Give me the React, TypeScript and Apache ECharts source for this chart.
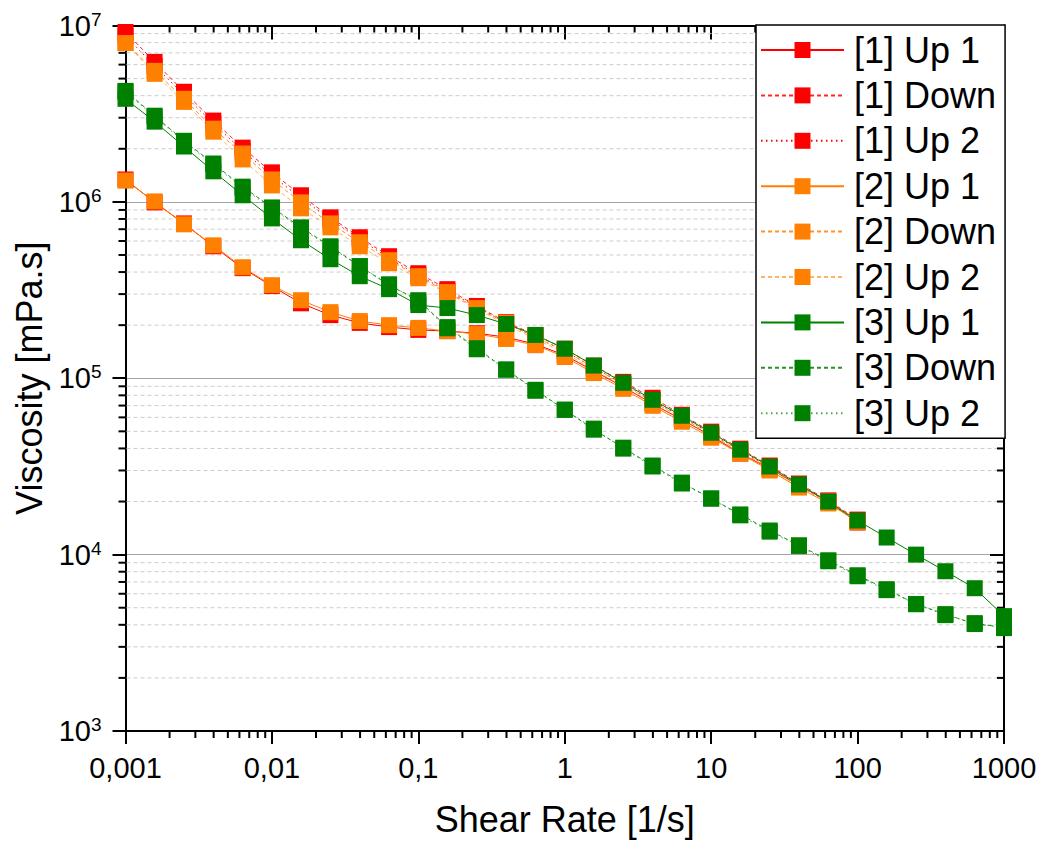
import React, { useEffect, useRef } from "react";
import * as echarts from "echarts";

const FONT = "'Liberation Sans', Arial, sans-serif";

// Shear rate [1/s] (5 points per decade)
const shearRate = [
  0.001, 0.00158, 0.00251, 0.00398, 0.00631, 0.01, 0.0158, 0.0251, 0.0398, 0.0631,
  0.1, 0.158, 0.251, 0.398, 0.631, 1, 1.58, 2.51, 3.98, 6.31,
  10, 15.8, 25.1, 39.8, 63.1, 100, 158, 251, 398, 631, 1000,
];

// Viscosity [mPa.s]
const s1Up1 = [1.34e6, 9.93e5, 7.55e5, 5.6e5, 4.21e5, 3.33e5, 2.66e5, 2.28e5, 2.06e5, 1.95e5, 1.88e5, 1.85e5, 1.8e5, 1.71e5, 1.56e5, 1.35e5, 1.1e5, 8.94e4, 7.16e4, 5.82e4, 4.72e4, 3.74e4, 3.08e4, 2.47e4, 2.0e4, 1.52e4];
const s1Down = [9.19e6, 6.22e6, 4.21e6, 2.89e6, 2.03e6, 1.47e6, 1.09e6, 8.17e5, 6.3e5, 4.92e5, 3.94e5, 3.2e5, 2.57e5, 2.08e5, 1.76e5, 1.47e5, 1.18e5, 9.54e4, 7.75e4, 6.21e4, 4.98e4, 3.99e4, 3.2e4, 2.53e4, 2.03e4, 1.58e4];
const s1Up2 = [8.72e6, 5.9e6, 4.05e6, 2.78e6, 1.95e6, 1.41e6, 1.05e6, 7.96e5, 6.14e5, 4.79e5, 3.84e5, 3.12e5, 2.54e5, 2.05e5, 1.71e5, 1.43e5, 1.15e5, 9.29e4, 7.45e4, 6.05e4, 4.85e4, 3.89e4, 3.12e4, 2.47e4, 1.98e4, 1.56e4];
const s2Up1 = [1.32e6, 1.006e6, 7.46e5, 5.67e5, 4.26e5, 3.37e5, 2.77e5, 2.37e5, 2.11e5, 2.0e5, 1.93e5, 1.85e5, 1.78e5, 1.67e5, 1.54e5, 1.32e5, 1.07e5, 8.71e4, 6.98e4, 5.67e4, 4.6e4, 3.74e4, 3.0e4, 2.4e4, 1.95e4, 1.54e4];
const s2Down = [7.96e6, 5.53e6, 3.84e6, 2.6e6, 1.88e6, 1.34e6, 9.93e5, 7.55e5, 5.9e5, 4.67e5, 3.79e5, 3.08e5, 2.5e5, 2.06e5, 1.71e5, 1.43e5, 1.15e5, 9.18e4, 7.36e4, 5.97e4, 4.79e4, 3.84e4, 3.08e4, 2.47e4, 2.0e4, 1.54e4];
const s2Up2 = [7.96e6, 5.32e6, 3.69e6, 2.5e6, 1.74e6, 1.24e6, 9.19e5, 7.17e5, 5.6e5, 4.49e5, 3.69e5, 3.04e5, 2.47e5, 2.01e5, 1.67e5, 1.39e5, 1.12e5, 8.94e4, 7.17e4, 5.82e4, 4.73e4, 3.79e4, 3.04e4, 2.44e4, 1.97e4, 1.54e4];
const s3Up1 = [3.84e6, 2.85e6, 2.06e6, 1.49e6, 1.09e6, 8.06e5, 6.06e5, 4.73e5, 3.79e5, 3.2e5, 2.6e5, 2.5e5, 2.28e5, 2.03e5, 1.76e5, 1.47e5, 1.18e5, 9.42e4, 7.55e4, 6.13e4, 4.91e4, 3.94e4, 3.16e4, 2.5e4, 2.0e4, 1.56e4, 1.25e4, 1.0e4, 8.05e3, 6.45e3, 4.48e3];
const s3Down = [4.26e6, 3.08e6, 2.22e6, 1.65e6, 1.22e6, 9.3e5, 7.17e5, 5.6e5, 4.32e5, 3.37e5, 2.77e5, 1.95e5, 1.48e5, 1.12e5, 8.6e4, 6.63e4, 5.11e4, 4.04e4, 3.2e4, 2.56e4, 2.08e4, 1.69e4, 1.37e4, 1.13e4, 9.29e3, 7.64e3, 6.37e3, 5.24e3, 4.6e3, 4.04e3, 3.89e3];
const s3Up2 = [4.21e6, 3.04e6, 2.19e6, 1.63e6, 1.2e6, 9.18e5, 7.08e5, 5.53e5, 4.32e5, 3.41e5, 2.73e5, 1.92e5, 1.46e5, 1.12e5, 8.49e4, 6.63e4, 5.18e4, 3.99e4, 3.16e4, 2.53e4, 2.08e4, 1.67e4, 1.35e4, 1.12e4, 9.17e3, 7.54e3, 6.29e3, 5.24e3, 4.54e3, 4.09e3, 3.83e3];

const seriesNames = ["[1] Up 1", "[1] Down", "[1] Up 2", "[2] Up 1", "[2] Down", "[2] Up 2", "[3] Up 1", "[3] Down", "[3] Up 2"];

const xTickLabels = ["0,001", "0,01", "0,1", "1", "10", "100", "1000"];
const X_MIN = 0.001;
const X_MAX = 1000;
const Y_MIN = 1e3;
const Y_MAX = 1e7;

const yMinor: number[] = [];
for (let e = 3; e < 7; e++) for (let m = 2; m <= 9; m++) yMinor.push(m * Math.pow(10, e));
const xMinor: number[] = [];
for (let e = -3; e < 3; e++) for (let m = 2; m <= 9; m++) xMinor.push(m * Math.pow(10, e));

const RED = "#ff0000";
const ORANGE = "#ff8000";
const GREEN = "#008000";

function mk(name: string, data: number[], color: string, type: any, opacity = 1) {
  return {
    name,
    type: "line",
    data: data.map((v, i) => [shearRate[i], v]),
    xAxisIndex: 0,
    yAxisIndex: 0,
    symbol: "rect",
    symbolSize: 16,
    showSymbol: true,
    showAllSymbol: true,
    itemStyle: { color, borderWidth: 0, opacity: 1 },
    lineStyle: { color, width: 1, type, opacity },
    clip: false,
    silent: true,
    z: 3,
  };
}

export default function App() {
  const ref = useRef<HTMLDivElement>(null);
  useEffect(() => {
    if (!ref.current) return;
    const chart = echarts.init(ref.current, undefined, { renderer: "svg" });
    const option: any = {
      animation: false,
      backgroundColor: "#fff",
      textStyle: { fontFamily: FONT },
      grid: { left: 125.5, right: 37, top: 25.5, bottom: 108.7, containLabel: false },
      xAxis: [
        {
          type: "log",
          logBase: 10,
          min: X_MIN,
          max: X_MAX,
          position: "bottom",
          name: "Shear Rate [1/s]",
          nameLocation: "middle",
          nameGap: 70,
          nameTextStyle: { fontSize: 36, color: "#000", fontFamily: FONT },
          axisLine: { show: true, onZero: false, lineStyle: { color: "#000", width: 2 } },
          axisTick: { show: true, inside: false, length: 13, lineStyle: { color: "#000", width: 2 } },
          axisLabel: {
            show: true,
            margin: 22,
            fontSize: 29,
            color: "#000",
            fontFamily: FONT,
            formatter: (v: number) => xTickLabels[Math.round(Math.log10(v)) + 3] ?? "",
          },
          splitLine: { show: false },
        },
        {
          type: "log",
          logBase: 10,
          min: X_MIN,
          max: X_MAX,
          position: "top",
          axisLine: { show: true, onZero: false, lineStyle: { color: "#000", width: 2 } },
          axisTick: { show: true, inside: true, length: 14, lineStyle: { color: "#000", width: 2 } },
          axisLabel: { show: false },
          splitLine: { show: false },
        },
      ],
      yAxis: [
        {
          type: "log",
          logBase: 10,
          min: Y_MIN,
          max: Y_MAX,
          position: "left",
          name: "Viscosity [mPa.s]",
          nameLocation: "middle",
          nameGap: 76,
          nameTextStyle: { fontSize: 36, color: "#000", fontFamily: FONT },
          axisLine: { show: true, onZero: false, lineStyle: { color: "#000", width: 2 } },
          axisTick: { show: true, inside: false, length: 13, lineStyle: { color: "#000", width: 2 } },
          axisLabel: {
            show: true,
            margin: 24,
            color: "#000",
            formatter: (v: number) => `{b|10}{s|${Math.round(Math.log10(v))}}`,
            rich: {
              b: { fontSize: 29, lineHeight: 32, color: "#000", fontFamily: FONT },
              s: { fontSize: 19, lineHeight: 19, verticalAlign: "top", color: "#000", fontFamily: FONT },
            },
          },
          splitLine: { show: true, lineStyle: { color: "#a6a6a6", width: 1, type: "solid" } },
        },
        {
          type: "log",
          logBase: 10,
          min: Y_MIN,
          max: Y_MAX,
          position: "right",
          axisLine: { show: true, onZero: false, lineStyle: { color: "#000", width: 2 } },
          axisTick: { show: true, inside: true, length: 14, lineStyle: { color: "#000", width: 2 } },
          axisLabel: { show: false },
          splitLine: { show: false },
        },
      ],
      legend: {
        data: seriesNames,
        orient: "vertical",
        left: 756,
        top: 25,
        padding: [2.3, 9, 2.3, 4],
        itemWidth: 83,
        itemHeight: 20,
        itemGap: 0,
        backgroundColor: "#fff",
        borderColor: "#000",
        borderWidth: 1.5,
        borderRadius: 0,
        selectedMode: false,
        textStyle: { fontSize: 36, color: "#000", lineHeight: 45.4, fontFamily: FONT, padding: [0, 0, 0, 5] },
      },
      series: [
        {
          type: "custom",
          name: "yMinor",
          coordinateSystem: "cartesian2d",
          xAxisIndex: 0,
          yAxisIndex: 0,
          silent: true,
          z: 1,
          data: yMinor.map((v) => [X_MIN, v]),
          encode: { x: 0, y: 1 },
          renderItem: (params: any, api: any) => {
            const v = api.value(1);
            const p0 = api.coord([X_MIN, v]);
            const p1 = api.coord([X_MAX, v]);
            return {
              type: "group",
              children: [
                { type: "line", shape: { x1: p0[0] + 1, y1: p0[1], x2: p1[0] - 1, y2: p1[1] }, style: { stroke: "#cccccc", lineWidth: 1, lineDash: [4, 3] } },
                { type: "line", shape: { x1: p0[0] - 7, y1: p0[1], x2: p0[0], y2: p0[1] }, style: { stroke: "#000", lineWidth: 2 } },
                { type: "line", shape: { x1: p1[0] - 7, y1: p1[1], x2: p1[0], y2: p1[1] }, style: { stroke: "#000", lineWidth: 2 } },
              ],
            };
          },
        },
        {
          type: "custom",
          name: "xMinor",
          coordinateSystem: "cartesian2d",
          xAxisIndex: 0,
          yAxisIndex: 0,
          silent: true,
          z: 1,
          data: xMinor.map((v) => [v, Y_MIN]),
          encode: { x: 0, y: 1 },
          renderItem: (params: any, api: any) => {
            const v = api.value(0);
            const p0 = api.coord([v, Y_MIN]);
            const p1 = api.coord([v, Y_MAX]);
            return {
              type: "group",
              children: [
                { type: "line", shape: { x1: p0[0], y1: p0[1], x2: p0[0], y2: p0[1] + 7 }, style: { stroke: "#000", lineWidth: 2 } },
                { type: "line", shape: { x1: p1[0], y1: p1[1], x2: p1[0], y2: p1[1] + 7 }, style: { stroke: "#000", lineWidth: 2 } },
              ],
            };
          },
        },
        mk(seriesNames[0], s1Up1, RED, "solid"),
        mk(seriesNames[1], s1Down, RED, [4, 3], 0.85),
        mk(seriesNames[2], s1Up2, RED, [1.5, 3.5], 1),
        mk(seriesNames[3], s2Up1, ORANGE, "solid"),
        mk(seriesNames[4], s2Down, ORANGE, [4, 3], 0.85),
        mk(seriesNames[5], s2Up2, ORANGE, [4, 3], 0.6),
        mk(seriesNames[6], s3Up1, GREEN, "solid"),
        mk(seriesNames[7], s3Down, GREEN, [4, 3], 0.85),
        mk(seriesNames[8], s3Up2, GREEN, [1.5, 3.5], 0.7),
      ],
    };
    chart.setOption(option);
    return () => chart.dispose();
  }, []);
  return (
    <div
      ref={ref}
      style={{ position: "fixed", left: 0, top: 0, width: 1041, height: 842, background: "#fff" }}
    />
  );
}
